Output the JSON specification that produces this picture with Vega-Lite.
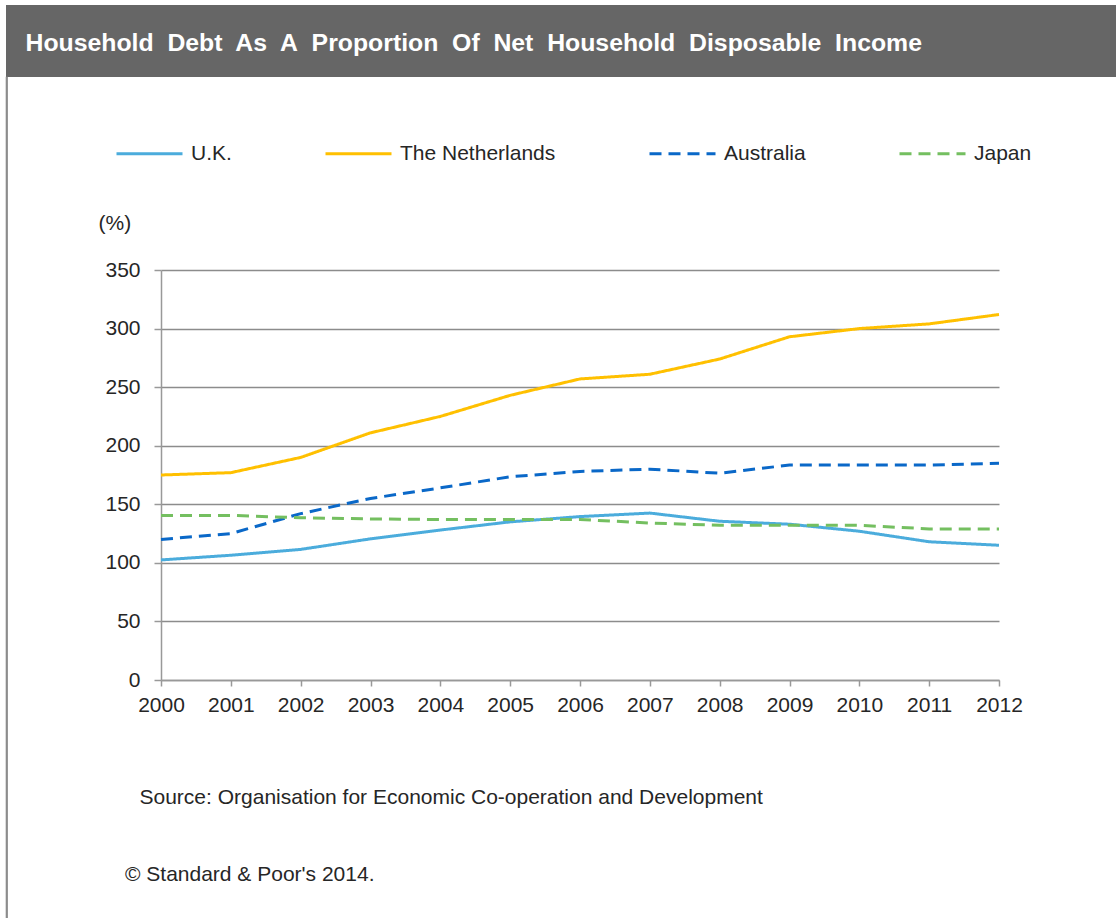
{
  "$schema": "https://vega.github.io/schema/vega-lite/v6.json",
  "padding": {"left": 5, "top": 5, "right": 0, "bottom": 0},
  "background": "white",
  "spacing": 0,
  "bounds": "flush",
  "config": {"font": "Liberation Sans", "view": {"stroke": null}},
  "vconcat": [
    {
      "width": 1111,
      "height": 72,
      "view": {"fill": "#666666", "stroke": null},
      "data": {"values": [{"t": "Household\u00a0 Debt\u00a0 As\u00a0 A\u00a0 Proportion\u00a0 Of\u00a0 Net\u00a0 Household\u00a0 Disposable\u00a0 Income"}]},
      "mark": {"type": "text", "align": "left", "baseline": "middle", "dx": -536, "dy": 3, "color": "white", "fontSize": 24.8, "fontWeight": "bold", "font": "Liberation Sans"},
      "encoding": {"text": {"field": "t"}}
    },
    {
      "spacing": 154,
      "bounds": "flush",
      "hconcat": [
        {
          "width": 1,
          "height": 841,
          "view": {"stroke": "#8c8c8c", "strokeWidth": 1.2},
          "data": {"values": [{}]},
          "mark": {"type": "point", "opacity": 0, "size": 0}
        },
        {
          "spacing": 0,
          "bounds": "flush",
          "vconcat": [
            {
              "width": 10,
              "height": 193,
              "data": {"values": [{}]},
              "mark": {"type": "point", "opacity": 0, "size": 0}
            },
            {
              "width": 838,
              "height": 410,
              "title": {"text": "© Standard & Poor's 2014.", "orient": "bottom", "anchor": "start", "frame": "group", "dx": -36, "offset": 57, "fontSize": 21, "fontWeight": "normal", "color": "#262626", "font": "Liberation Sans"},
              "data": {"values": [
                {"year": 2000, "country": "U.K.", "value": 102.5},
                {"year": 2001, "country": "U.K.", "value": 106.5},
                {"year": 2002, "country": "U.K.", "value": 111.5},
                {"year": 2003, "country": "U.K.", "value": 120.5},
                {"year": 2004, "country": "U.K.", "value": 128},
                {"year": 2005, "country": "U.K.", "value": 135},
                {"year": 2006, "country": "U.K.", "value": 139.5},
                {"year": 2007, "country": "U.K.", "value": 142.5},
                {"year": 2008, "country": "U.K.", "value": 135.5},
                {"year": 2009, "country": "U.K.", "value": 133},
                {"year": 2010, "country": "U.K.", "value": 127},
                {"year": 2011, "country": "U.K.", "value": 118},
                {"year": 2012, "country": "U.K.", "value": 115},
                {"year": 2000, "country": "The Netherlands", "value": 175},
                {"year": 2001, "country": "The Netherlands", "value": 177},
                {"year": 2002, "country": "The Netherlands", "value": 190},
                {"year": 2003, "country": "The Netherlands", "value": 211},
                {"year": 2004, "country": "The Netherlands", "value": 225},
                {"year": 2005, "country": "The Netherlands", "value": 243},
                {"year": 2006, "country": "The Netherlands", "value": 257},
                {"year": 2007, "country": "The Netherlands", "value": 261},
                {"year": 2008, "country": "The Netherlands", "value": 274},
                {"year": 2009, "country": "The Netherlands", "value": 293},
                {"year": 2010, "country": "The Netherlands", "value": 300},
                {"year": 2011, "country": "The Netherlands", "value": 304},
                {"year": 2012, "country": "The Netherlands", "value": 312},
                {"year": 2000, "country": "Australia", "value": 120},
                {"year": 2001, "country": "Australia", "value": 125},
                {"year": 2002, "country": "Australia", "value": 142},
                {"year": 2003, "country": "Australia", "value": 155},
                {"year": 2004, "country": "Australia", "value": 164},
                {"year": 2005, "country": "Australia", "value": 173.5},
                {"year": 2006, "country": "Australia", "value": 178},
                {"year": 2007, "country": "Australia", "value": 180},
                {"year": 2008, "country": "Australia", "value": 176.5},
                {"year": 2009, "country": "Australia", "value": 183.5},
                {"year": 2010, "country": "Australia", "value": 183.5},
                {"year": 2011, "country": "Australia", "value": 183.5},
                {"year": 2012, "country": "Australia", "value": 185},
                {"year": 2000, "country": "Japan", "value": 140.5},
                {"year": 2001, "country": "Japan", "value": 140.5},
                {"year": 2002, "country": "Japan", "value": 138.5},
                {"year": 2003, "country": "Japan", "value": 137.5},
                {"year": 2004, "country": "Japan", "value": 137},
                {"year": 2005, "country": "Japan", "value": 137},
                {"year": 2006, "country": "Japan", "value": 137},
                {"year": 2007, "country": "Japan", "value": 134},
                {"year": 2008, "country": "Japan", "value": 132},
                {"year": 2009, "country": "Japan", "value": 132},
                {"year": 2010, "country": "Japan", "value": 132},
                {"year": 2011, "country": "Japan", "value": 129},
                {"year": 2012, "country": "Japan", "value": 129}
              ]},
              "mark": {"type": "line", "strokeWidth": 3, "strokeCap": "butt"},
              "encoding": {
                "x": {
                  "field": "year", "type": "quantitative",
                  "scale": {"domain": [2000, 2012], "nice": false, "zero": false},
                  "axis": {
                    "values": [2000, 2001, 2002, 2003, 2004, 2005, 2006, 2007, 2008, 2009, 2010, 2011, 2012],
                    "format": "d", "grid": false,
                    "domainColor": "#999999", "domainWidth": 1.5,
                    "tickColor": "#999999", "tickWidth": 1.5, "tickSize": 6,
                    "labelFontSize": 21, "labelColor": "#262626", "labelPadding": 8, "labelFlush": false,
                    "title": "Source: Organisation for Economic Co-operation and Development",
                    "titleX": -22, "titleY": 117, "titleAlign": "left", "titleBaseline": "middle",
                    "titleFontSize": 21, "titleFontWeight": "normal", "titleColor": "#262626"
                  }
                },
                "y": {
                  "field": "value", "type": "quantitative",
                  "scale": {"domain": [0, 350], "nice": false},
                  "axis": {
                    "values": [0, 50, 100, 150, 200, 250, 300, 350],
                    "grid": true, "gridColor": "#8c8c8c", "gridWidth": 1.3,
                    "domainColor": "#999999", "domainWidth": 1.5,
                    "tickColor": "#999999", "tickWidth": 1.5, "tickSize": 7,
                    "labelFontSize": 21, "labelColor": "#262626", "labelPadding": 14,
                    "title": "(%)", "titleX": -63, "titleY": -47, "titleAngle": 0,
                    "titleAlign": "left", "titleBaseline": "middle",
                    "titleFontSize": 21, "titleFontWeight": "normal", "titleColor": "#262626"
                  }
                },
                "color": {
                  "field": "country", "type": "nominal",
                  "scale": {"domain": ["U.K.", "The Netherlands", "Australia", "Japan"], "range": ["#4bacdc", "#ffc000", "#0a68c8", "#74bf60"]},
                  "legend": {
                    "orient": "none", "legendX": 109, "legendY": 114, "direction": "horizontal",
                    "columns": 4, "columnPadding": 87, "title": null,
                    "symbolType": "stroke", "symbolSize": 4356, "symbolStrokeWidth": 3,
                    "labelFontSize": 21, "labelColor": "#262626", "labelOffset": 7, "labelLimit": 400
                  }
                },
                "strokeDash": {
                  "field": "country", "type": "nominal",
                  "scale": {"domain": ["U.K.", "The Netherlands", "Australia", "Japan"], "range": [[1, 0], [1, 0], [12, 7], [12, 7]]},
                  "legend": {
                    "orient": "none", "legendX": 109, "legendY": 114, "direction": "horizontal",
                    "columns": 4, "columnPadding": 87, "title": null,
                    "symbolType": "stroke", "symbolSize": 4356, "symbolStrokeWidth": 3,
                    "labelFontSize": 21, "labelColor": "#262626", "labelOffset": 7, "labelLimit": 400
                  }
                }
              }
            }
          ]
        }
      ]
    }
  ]
}
